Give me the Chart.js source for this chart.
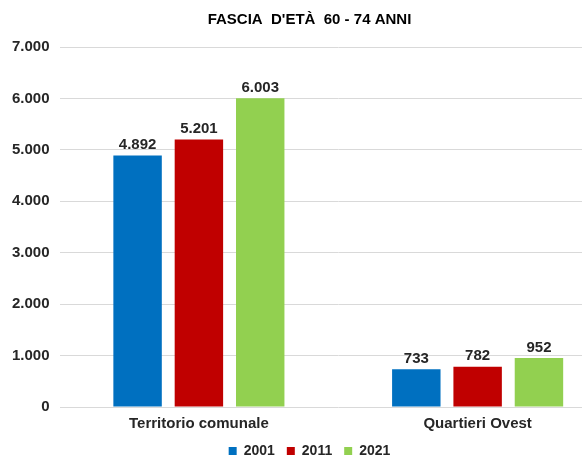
<!DOCTYPE html>
<html>
<head>
<meta charset="utf-8">
<script src="https://cdn.jsdelivr.net/npm/chart.js@4.4.1/dist/chart.umd.min.js"></script>
<style>
  html, body { margin: 0; padding: 0; background: #fff; overflow: hidden; }
  #wrap { width: 620px; height: 468px; }
</style>
</head>
<body>
<div id="wrap"><canvas id="bar_fascia_60_74" width="620" height="468"></canvas></div>
<script>
const categories = ["Territorio comunale", "Quartieri Ovest"];
const years = ["2001", "2011", "2021"];
const values_2001 = [4892, 733];
const values_2011 = [5201, 782];
const values_2021 = [6003, 952];
const colors = ["#0070C0", "#C00000", "#92D050"];

// numbers with a dot as thousands separator, like "4.892"
function fmt(v) {
    return String(v).replace(/\B(?=(\d{3})+(?!\d))/g, ".");
}

const valueLabels = {
    id: "valueLabels",
    afterDatasetsDraw(chart) {
        const ctx = chart.ctx;
        ctx.save();
        ctx.font = "bold 15px 'Liberation Sans', Arial, sans-serif";
        ctx.fillStyle = "#262626";
        ctx.textAlign = "center";
        ctx.textBaseline = "bottom";
        chart.data.datasets.forEach((ds, i) => {
            chart.getDatasetMeta(i).data.forEach((bar, j) => {
                ctx.fillText(fmt(ds.data[j]), bar.x, bar.y - 3);
            });
        });
        ctx.restore();
    }
};

const config_fascia = {
    "type": "bar",
    "data": {
        "labels": categories,
        "datasets": [
            { "label": years[0], "data": values_2001, "backgroundColor": colors[0] },
            { "label": years[1], "data": values_2011, "backgroundColor": colors[1] },
            { "label": years[2], "data": values_2021, "backgroundColor": colors[2] }
        ]
    },
    "options": {
        "responsive": false,
        "animation": false,
        "layout": { "padding": { "left": 2, "right": 3, "top": 0, "bottom": 0 } },
        "datasets": {
            "bar": { "categoryPercentage": 0.66, "barPercentage": 0.79 }
        },
        "scales": {
            "x": {
                "grid": { "display": false },
                "border": { "display": false },
                "ticks": {
                    "color": "#262626",
                    "font": { "family": "'Liberation Sans', Arial, sans-serif", "size": 15, "weight": "bold" },
                    "padding": 0
                },
                "afterFit": (scale) => { scale.height -= 1; }
            },
            "y": {
                "min": 0,
                "max": 7000,
                "grid": { "color": "#d9d9d9", "drawTicks": false },
                "border": { "display": false },
                "ticks": {
                    "stepSize": 1000,
                    "padding": 10,
                    "color": "#262626",
                    "font": { "family": "'Liberation Sans', Arial, sans-serif", "size": 15, "weight": "bold" },
                    "callback": (v) => fmt(v)
                }
            }
        },
        "plugins": {
            "title": {
                "display": true,
                "text": "FASCIA  D'ETÀ  60 - 74 ANNI",
                "color": "#000",
                "font": { "family": "'Liberation Sans', Arial, sans-serif", "size": 15, "weight": "bold" },
                "padding": { "top": 11, "bottom": 18 }
            },
            "legend": {
                "position": "bottom",
                "labels": {
                    "boxWidth": 8,
                    "boxHeight": 8,
                    "padding": 12,
                    "color": "#262626",
                    "font": { "family": "'Liberation Sans', Arial, sans-serif", "size": 14, "weight": "bold" }
                }
            },
            "tooltip": { "enabled": false }
        }
    },
    "plugins": [valueLabels]
};

const ctx_fascia = document.getElementById("bar_fascia_60_74").getContext("2d");
const chart_fascia = new Chart(ctx_fascia, config_fascia);
</script>
</body>
</html>
